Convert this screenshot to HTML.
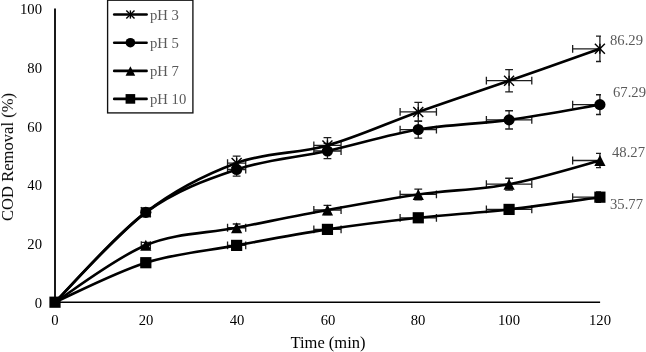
<!DOCTYPE html>
<html><head><meta charset="utf-8"><title>chart</title>
<style>
html,body{margin:0;padding:0;background:#fff;}
body{width:646px;height:352px;position:relative;overflow:hidden;font-family:"Liberation Serif",serif;}
.t{position:absolute;will-change:transform;white-space:nowrap;line-height:1;font-family:"Liberation Serif",serif;}
</style></head><body>
<svg width="646" height="352" viewBox="0 0 646 352" style="position:absolute;left:0;top:0">
<defs><clipPath id="pc"><rect x="45.00" y="0" width="556.00" height="320"/></clipPath></defs>
<line x1="55.00" y1="8.60" x2="55.00" y2="303.00" stroke="#000" stroke-width="1.8"/>
<line x1="54.10" y1="302.20" x2="600.10" y2="302.20" stroke="#000" stroke-width="1.6"/>
<g clip-path="url(#pc)"><path d="M141.28 212.36 H150.36 M141.28 208.46 V216.26 M150.36 208.46 V216.26 M145.82 207.87 V216.85 M141.92 207.87 H149.72 M141.92 216.85 H149.72 M227.55 163.03 H245.72 M227.55 159.13 V166.93 M245.72 159.13 V166.93 M236.63 156.08 V169.99 M232.73 156.08 H240.53 M232.73 169.99 H240.53 M313.83 145.42 H341.07 M313.83 141.52 V149.32 M341.07 141.52 V149.32 M327.45 137.58 V153.26 M323.55 137.58 H331.35 M323.55 153.26 H331.35 M400.10 111.95 H436.43 M400.10 108.05 V115.85 M436.43 108.05 V115.85 M418.27 102.43 V121.46 M414.37 102.43 H422.17 M414.37 121.46 H422.17 M486.38 80.71 H531.79 M486.38 76.81 V84.61 M531.79 76.81 V84.61 M509.08 69.63 V91.78 M505.18 69.63 H512.98 M505.18 91.78 H512.98 M572.65 48.85 H627.14 M572.65 44.95 V52.75 M627.14 44.95 V52.75 M599.90 36.19 V61.52 M596.00 36.19 H603.80 M596.00 61.52 H603.80 M141.28 212.36 H150.36 M141.28 208.46 V216.26 M150.36 208.46 V216.26 M145.82 207.87 V216.85 M141.92 207.87 H149.72 M141.92 216.85 H149.72 M227.55 169.49 H245.72 M227.55 165.59 V173.39 M245.72 165.59 V173.39 M236.63 162.86 V176.13 M232.73 162.86 H240.53 M232.73 176.13 H240.53 M313.83 151.00 H341.07 M313.83 147.10 V154.90 M341.07 147.10 V154.90 M327.45 143.44 V158.56 M323.55 143.44 H331.35 M323.55 158.56 H331.35 M400.10 129.56 H436.43 M400.10 125.66 V133.46 M436.43 125.66 V133.46 M418.27 120.93 V138.20 M414.37 120.93 H422.17 M414.37 138.20 H422.17 M486.38 119.87 H531.79 M486.38 115.97 V123.77 M531.79 115.97 V123.77 M509.08 110.76 V128.99 M505.18 110.76 H512.98 M505.18 128.99 H512.98 M572.65 104.64 H627.14 M572.65 100.74 V108.54 M627.14 100.74 V108.54 M599.90 94.76 V114.51 M596.00 94.76 H603.80 M596.00 114.51 H603.80 M141.28 245.24 H150.36 M141.28 241.34 V249.14 M150.36 241.34 V249.14 M145.82 242.39 V248.09 M141.92 242.39 H149.72 M141.92 248.09 H149.72 M227.55 227.74 H245.72 M227.55 223.84 V231.64 M245.72 223.84 V231.64 M236.63 224.02 V231.47 M232.73 224.02 H240.53 M232.73 231.47 H240.53 M313.83 210.01 H341.07 M313.83 206.11 V213.91 M341.07 206.11 V213.91 M327.45 205.40 V214.62 M323.55 205.40 H331.35 M323.55 214.62 H331.35 M400.10 194.45 H436.43 M400.10 190.55 V198.35 M436.43 190.55 V198.35 M418.27 189.06 V199.84 M414.37 189.06 H422.17 M414.37 199.84 H422.17 M486.38 184.17 H531.79 M486.38 180.27 V188.07 M531.79 180.27 V188.07 M509.08 178.27 V190.07 M505.18 178.27 H512.98 M505.18 190.07 H512.98 M572.65 160.48 H627.14 M572.65 156.58 V164.38 M627.14 156.58 V164.38 M599.90 153.39 V167.57 M596.00 153.39 H603.80 M596.00 167.57 H603.80 M141.28 262.71 H150.36 M141.28 258.81 V266.61 M150.36 258.81 V266.61 M145.82 260.74 V264.69 M141.92 260.74 H149.72 M141.92 264.69 H149.72 M227.55 245.39 H245.72 M227.55 241.49 V249.29 M245.72 241.49 V249.29 M236.63 242.55 V248.23 M232.73 242.55 H240.53 M232.73 248.23 H240.53 M313.83 229.39 H341.07 M313.83 225.49 V233.29 M341.07 225.49 V233.29 M327.45 225.75 V233.03 M323.55 225.75 H331.35 M323.55 233.03 H331.35 M400.10 217.79 H436.43 M400.10 213.89 V221.69 M436.43 213.89 V221.69 M418.27 213.57 V222.01 M414.37 213.57 H422.17 M414.37 222.01 H422.17 M486.38 209.42 H531.79 M486.38 205.52 V213.32 M531.79 205.52 V213.32 M509.08 204.78 V214.06 M505.18 204.78 H512.98 M505.18 214.06 H512.98 M572.65 197.18 H627.14 M572.65 193.28 V201.08 M627.14 193.28 V201.08 M599.90 191.93 V202.43 M596.00 191.93 H603.80 M596.00 202.43 H603.80" stroke="#1e1e1e" stroke-width="1.3" fill="none"/></g>
<path d="M55.00 302.20 C70.14 287.23 115.54 235.55 145.82 212.36 C176.09 189.16 206.36 174.19 236.63 163.03 C266.91 151.88 297.18 153.93 327.45 145.42 C357.72 136.90 387.99 122.73 418.27 111.95 C448.54 101.16 478.81 91.22 509.08 80.71 C539.36 70.19 584.76 54.16 599.90 48.85" stroke="#000" stroke-width="2.6" fill="none" stroke-linecap="round" stroke-linejoin="round"/>
<path d="M55.00 302.20 C70.14 287.23 115.54 234.48 145.82 212.36 C176.09 190.24 206.36 179.72 236.63 169.49 C266.91 159.27 297.18 157.65 327.45 151.00 C357.72 144.34 387.99 134.75 418.27 129.56 C448.54 124.38 478.81 124.03 509.08 119.87 C539.36 115.72 584.76 107.18 599.90 104.64" stroke="#000" stroke-width="2.6" fill="none" stroke-linecap="round" stroke-linejoin="round"/>
<path d="M55.00 302.20 C70.14 292.71 115.54 257.65 145.82 245.24 C176.09 232.83 206.36 233.62 236.63 227.74 C266.91 221.87 297.18 215.56 327.45 210.01 C357.72 204.46 387.99 198.75 418.27 194.45 C448.54 190.14 478.81 189.83 509.08 184.17 C539.36 178.51 584.76 164.43 599.90 160.48" stroke="#000" stroke-width="2.6" fill="none" stroke-linecap="round" stroke-linejoin="round"/>
<path d="M55.00 302.20 C70.14 295.62 115.54 272.18 145.82 262.71 C176.09 253.24 206.36 250.94 236.63 245.39 C266.91 239.83 297.18 233.99 327.45 229.39 C357.72 224.79 387.99 221.12 418.27 217.79 C448.54 214.46 478.81 212.86 509.08 209.42 C539.36 205.99 584.76 199.22 599.90 197.18" stroke="#000" stroke-width="2.6" fill="none" stroke-linecap="round" stroke-linejoin="round"/>
<g stroke="#000" stroke-width="1.4" fill="none"><line x1="140.82" y1="207.36" x2="150.82" y2="217.36"/><line x1="140.82" y1="217.36" x2="150.82" y2="207.36"/><line x1="145.82" y1="207.36" x2="145.82" y2="217.36"/></g>
<g stroke="#000" stroke-width="1.4" fill="none"><line x1="231.63" y1="158.03" x2="241.63" y2="168.03"/><line x1="231.63" y1="168.03" x2="241.63" y2="158.03"/><line x1="236.63" y1="158.03" x2="236.63" y2="168.03"/></g>
<g stroke="#000" stroke-width="1.4" fill="none"><line x1="322.45" y1="140.42" x2="332.45" y2="150.42"/><line x1="322.45" y1="150.42" x2="332.45" y2="140.42"/><line x1="327.45" y1="140.42" x2="327.45" y2="150.42"/></g>
<g stroke="#000" stroke-width="1.4" fill="none"><line x1="413.27" y1="106.95" x2="423.27" y2="116.95"/><line x1="413.27" y1="116.95" x2="423.27" y2="106.95"/><line x1="418.27" y1="106.95" x2="418.27" y2="116.95"/></g>
<g stroke="#000" stroke-width="1.4" fill="none"><line x1="504.08" y1="75.71" x2="514.08" y2="85.71"/><line x1="504.08" y1="85.71" x2="514.08" y2="75.71"/><line x1="509.08" y1="75.71" x2="509.08" y2="85.71"/></g>
<g stroke="#000" stroke-width="1.4" fill="none"><line x1="594.90" y1="43.85" x2="604.90" y2="53.85"/><line x1="594.90" y1="53.85" x2="604.90" y2="43.85"/><line x1="599.90" y1="43.85" x2="599.90" y2="53.85"/></g>
<circle cx="145.82" cy="212.36" r="5.60" fill="#000"/>
<circle cx="236.63" cy="169.49" r="5.60" fill="#000"/>
<circle cx="327.45" cy="151.00" r="5.60" fill="#000"/>
<circle cx="418.27" cy="129.56" r="5.60" fill="#000"/>
<circle cx="509.08" cy="119.87" r="5.60" fill="#000"/>
<circle cx="599.90" cy="104.64" r="5.60" fill="#000"/>
<polygon points="145.82,239.74 151.42,250.74 140.22,250.74" fill="#000"/>
<polygon points="236.63,222.24 242.23,233.24 231.03,233.24" fill="#000"/>
<polygon points="327.45,204.51 333.05,215.51 321.85,215.51" fill="#000"/>
<polygon points="418.27,188.95 423.87,199.95 412.67,199.95" fill="#000"/>
<polygon points="509.08,178.67 514.68,189.67 503.48,189.67" fill="#000"/>
<polygon points="599.90,154.98 605.50,165.98 594.30,165.98" fill="#000"/>
<rect x="49.40" y="296.60" width="11.20" height="11.20" fill="#000"/>
<rect x="140.22" y="257.11" width="11.20" height="11.20" fill="#000"/>
<rect x="231.03" y="239.79" width="11.20" height="11.20" fill="#000"/>
<rect x="321.85" y="223.79" width="11.20" height="11.20" fill="#000"/>
<rect x="412.67" y="212.19" width="11.20" height="11.20" fill="#000"/>
<rect x="503.48" y="203.82" width="11.20" height="11.20" fill="#000"/>
<rect x="594.30" y="191.58" width="11.20" height="11.20" fill="#000"/>
<rect x="107.6" y="0.2" width="85.3" height="112.7" fill="#fff" stroke="#111" stroke-width="1.35"/>
<line x1="114.2" y1="14.50" x2="146.6" y2="14.50" stroke="#000" stroke-width="2.6" stroke-linecap="round"/>
<g stroke="#000" stroke-width="1.4" fill="none"><line x1="126.30" y1="10.40" x2="134.50" y2="18.60"/><line x1="126.30" y1="18.60" x2="134.50" y2="10.40"/><line x1="130.40" y1="10.40" x2="130.40" y2="18.60"/></g>
<line x1="114.2" y1="42.70" x2="146.6" y2="42.70" stroke="#000" stroke-width="2.6" stroke-linecap="round"/>
<circle cx="130.40" cy="42.70" r="4.82" fill="#000"/>
<line x1="114.2" y1="70.90" x2="146.6" y2="70.90" stroke="#000" stroke-width="2.6" stroke-linecap="round"/>
<polygon points="130.40,66.17 135.22,75.63 125.58,75.63" fill="#000"/>
<line x1="114.2" y1="98.90" x2="146.6" y2="98.90" stroke="#000" stroke-width="2.6" stroke-linecap="round"/>
<rect x="125.58" y="94.08" width="9.63" height="9.63" fill="#000"/>
</svg>
<div class="t" style="left:42.00px;top:295.71px;font-size:14.67px;color:#000;transform:translate(-100%,0) scale(1,1.04);transform-origin:50% 83.75%;">0</div>
<div class="t" style="left:42.00px;top:236.99px;font-size:14.67px;color:#000;transform:translate(-100%,0) scale(1,1.04);transform-origin:50% 83.75%;">20</div>
<div class="t" style="left:42.00px;top:178.27px;font-size:14.67px;color:#000;transform:translate(-100%,0) scale(1,1.04);transform-origin:50% 83.75%;">40</div>
<div class="t" style="left:42.00px;top:119.55px;font-size:14.67px;color:#000;transform:translate(-100%,0) scale(1,1.04);transform-origin:50% 83.75%;">60</div>
<div class="t" style="left:42.00px;top:60.83px;font-size:14.67px;color:#000;transform:translate(-100%,0) scale(1,1.04);transform-origin:50% 83.75%;">80</div>
<div class="t" style="left:42.00px;top:2.11px;font-size:14.67px;color:#000;transform:translate(-100%,0) scale(1,1.04);transform-origin:50% 83.75%;">100</div>
<div class="t" style="left:55.15px;top:312.51px;font-size:14.67px;color:#000;transform:translate(-50%,0) scale(1,1.04);transform-origin:50% 83.75%;">0</div>
<div class="t" style="left:145.97px;top:312.51px;font-size:14.67px;color:#000;transform:translate(-50%,0) scale(1,1.04);transform-origin:50% 83.75%;">20</div>
<div class="t" style="left:236.78px;top:312.51px;font-size:14.67px;color:#000;transform:translate(-50%,0) scale(1,1.04);transform-origin:50% 83.75%;">40</div>
<div class="t" style="left:327.60px;top:312.51px;font-size:14.67px;color:#000;transform:translate(-50%,0) scale(1,1.04);transform-origin:50% 83.75%;">60</div>
<div class="t" style="left:418.42px;top:312.51px;font-size:14.67px;color:#000;transform:translate(-50%,0) scale(1,1.04);transform-origin:50% 83.75%;">80</div>
<div class="t" style="left:509.23px;top:312.51px;font-size:14.67px;color:#000;transform:translate(-50%,0) scale(1,1.04);transform-origin:50% 83.75%;">100</div>
<div class="t" style="left:600.05px;top:312.51px;font-size:14.67px;color:#000;transform:translate(-50%,0) scale(1,1.04);transform-origin:50% 83.75%;">120</div>
<div class="t" style="left:327.90px;top:334.68px;font-size:16.50px;color:#000;transform:translate(-50%,0) scale(1,1.0);transform-origin:50% 83.75%;">Time (min)</div>
<div class="t" style="left:149.90px;top:7.61px;font-size:14.67px;color:#595959;transform:translate(0,0) scale(1,1.04);transform-origin:50% 83.75%;">pH 3</div>
<div class="t" style="left:149.90px;top:35.81px;font-size:14.67px;color:#595959;transform:translate(0,0) scale(1,1.04);transform-origin:50% 83.75%;">pH 5</div>
<div class="t" style="left:149.90px;top:64.01px;font-size:14.67px;color:#595959;transform:translate(0,0) scale(1,1.04);transform-origin:50% 83.75%;">pH 7</div>
<div class="t" style="left:149.90px;top:92.01px;font-size:14.67px;color:#595959;transform:translate(0,0) scale(1,1.04);transform-origin:50% 83.75%;">pH 10</div>
<div class="t" style="left:610.00px;top:32.71px;font-size:14.67px;color:#595959;transform:translate(0,0) scale(1,1.04);transform-origin:50% 83.75%;">86.29</div>
<div class="t" style="left:612.80px;top:85.21px;font-size:14.67px;color:#595959;transform:translate(0,0) scale(1,1.04);transform-origin:50% 83.75%;">67.29</div>
<div class="t" style="left:612.20px;top:144.51px;font-size:14.67px;color:#595959;transform:translate(0,0) scale(1,1.04);transform-origin:50% 83.75%;">48.27</div>
<div class="t" style="left:610.00px;top:196.71px;font-size:14.67px;color:#595959;transform:translate(0,0) scale(1,1.04);transform-origin:50% 83.75%;">35.77</div>
<div class="t" style="left:8.2px;top:156.8px;font-size:16.6px;transform:translate(-50%,-50%) rotate(-90deg);transform-origin:center;line-height:16px;height:16px">COD Removal (%)</div>
</body></html>
